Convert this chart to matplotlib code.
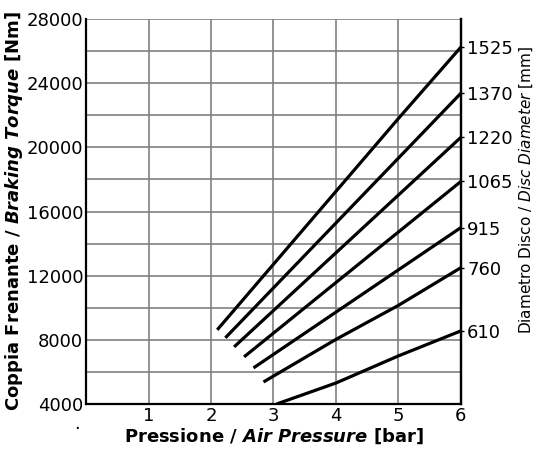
from matplotlib import pyplot as plt

# curve data: pressure [bar] vs braking torque [Nm]
diametri = ['610', '760', '915', '1065', '1220', '1370', '1525']
pressioni = [
    [3.05, 4.0, 5.0, 6.0],
    [2.84, 4.0, 5.0, 6.0],
    [2.68, 6.0],
    [2.53, 6.0],
    [2.37, 6.0],
    [2.23, 6.0],
    [2.10, 5.0, 6.0],
]
coppie = [
    [4000, 5310, 7000, 8560],
    [5375, 8030, 10150, 12500],
    [6250, 15000],
    [6940, 17875],
    [7560, 20625],
    [8125, 23375],
    [8625, 21800, 26250],
]
xtick_val = [0, 1, 2, 3, 4, 5, 6]
xtick_lab = ['', '1', '2', '3', '4', '5', '6']
ytick_val = [4000, 8000, 12000, 16000, 20000, 24000, 28000]

fig = plt.figure(figsize=(5.41, 4.61), dpi=100)
ax = fig.add_axes([0.159, 0.1236, 0.693, 0.8352])

for xs, ys in zip(pressioni, coppie):
    ax.plot(xs, ys, color='black', lw=2.3, solid_capstyle='butt', zorder=3)

ax.set_xlim(0, 6)
ax.set_ylim(4000, 28000)
ax.set_xticks(xtick_val)
ax.set_xticklabels(xtick_lab)
ax.set_yticks(ytick_val)
ax.set_yticks(range(4000, 28001, 2000), minor=True)
ax.grid(True, which='both', color='#808080', lw=1.2)
ax.tick_params(which='both', length=0, labelsize=13, pad=2)
# the zero label is just a dot, a bit left of the axis
ax.text(-0.15, -0.066, '.', transform=ax.get_xaxis_transform(),
        ha='center', va='baseline', fontsize=13)
for s in ax.spines.values():
    s.set_linewidth(1.6)
ax.spines['top'].set_visible(False)

ax.set_xlabel('Pressione / $\\mathbfit{Air\\ Pressure}$ [bar]',
              fontsize=13, fontweight='bold', labelpad=1)
ax.set_ylabel('Coppia Frenante / $\\mathbfit{Braking\\ Torque}$ [Nm]',
              fontsize=13, fontweight='bold', labelpad=1)

# right axis with disc diameter labels at curve ends
ax2 = ax.twinx()
ax2.set_ylim(ax.get_ylim())
ax2.set_yticks([c[-1] for c in coppie])
ax2.set_yticklabels(diametri)
ax2.tick_params(length=2.5, width=1, labelsize=13, pad=2)
ax2.set_ylabel('Diametro Disco / $\\mathit{Disc\\ Diameter}$ [mm]', fontsize=11)
ax2.yaxis.set_label_coords(1.15, 0.555)
for s in ax2.spines.values():
    s.set_visible(False)
ax2.spines['right'].set_visible(True)
ax2.spines['right'].set_linewidth(1.6)

plt.savefig('out.png', dpi=100)
